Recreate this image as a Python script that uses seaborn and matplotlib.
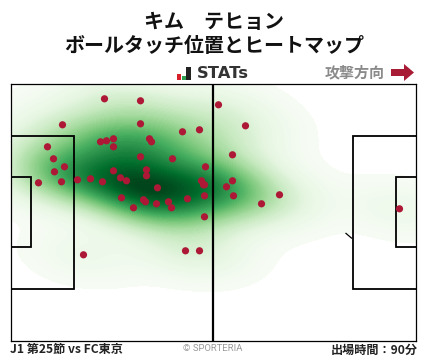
import matplotlib
matplotlib.use("Agg")
import matplotlib.pyplot as plt
from matplotlib.patches import Rectangle, FancyArrow
import seaborn as sns
import pandas as pd

sns.set_theme(style="white")
plt.rcParams['font.family'] = ['Noto Sans CJK JP', 'DejaVu Sans']

# Touch positions, pitch units (1 unit = 1 px on the 405 x 255 pitch); y runs down from the top touchline
touch_x = [94,130,52,130,172,189,103,96,90,139,141,103,37,43,54,130,162,
           195,44,103,136,136,51,28,67,80,92,110,116,191,193,194,147,111,
           133,135,146,158,177,194,123,161,194,73,175,189,
           208,235,222,222,216,223,269,251,389]
touch_y = [14.3,16.3,40.3,39.3,47.3,45.3,54.3,56.3,57.3,54.3,57.3,62.3,62.3,74.3,82.3,72.3,74.3,
           82.3,87.3,86.3,85.3,91.3,97.3,98.3,95.3,94.3,97.3,93.3,96.3,96.3,100.3,100.3,103.3,113.3,
           115.3,117.3,119.3,117.3,114.3,111.3,123.3,123.3,132.3,170.3,166.3,166.3,
           20.3,41.3,70.3,96.3,102.3,111.3,110.3,119.3,124.3]

title_lines = ["キム　テヒョン", "ボールタッチ位置とヒートマップ"]
direction_label = "攻撃方向"
logo_label = "STATs"
footer_left = "J1 第25節 vs FC東京"
footer_mid = "© SPORTERIA"
footer_right = "出場時間：90分"

W, H = 428, 359
fig = plt.figure(figsize=(W/100, H/100), dpi=100)
ax = fig.add_axes([10.5/W, 1-340.5/H, 405.5/W, 256.5/H])
df = pd.DataFrame({"x": touch_x, "y": touch_y})

sns.kdeplot(data=df, x="x", y="y", fill=True, levels=90, thresh=0.012, cmap="Greens",
            bw_adjust=1.08, cut=6, gridsize=200, ax=ax, zorder=1)
sns.scatterplot(data=df, x="x", y="y", color="#ad1836", s=27, edgecolor="none", ax=ax, zorder=5, clip_on=False)

ax.set_xlim(0, 405.5)
ax.set_ylim(256, -0.5)
ax.set_xticks([]); ax.set_yticks([])
ax.set_xlabel(""); ax.set_ylabel("")
for s in ax.spines.values():
    s.set_visible(True); s.set_color("black"); s.set_linewidth(0.9); s.set_zorder(6)

lw = 1.3
def line(xs, ys, w=lw):
    ax.plot(xs, ys, color="black", lw=w, solid_capstyle="butt", solid_joinstyle="miter", zorder=4)
line([202.5, 202.5], [0, 256], 1.6)
line([0, 63, 63, 0], [51, 51, 204.5, 204.5])
line([0, 20.5, 20.5, 0], [92.5, 92.5, 162.5, 162.5])
line([405.5, 342.5, 342.5, 405.5], [51, 51, 204.5, 204.5])
line([405.5, 385, 385, 405.5], [92.5, 92.5, 162.5, 162.5])
line([335, 341.5], [148.5, 154], 0.9)

fig.text(214/W, 1-21/H, title_lines[0], ha="center", va="center", fontsize=14.4, fontweight="bold", color="#111111")
fig.text(214/W, 1-46/H, title_lines[1], ha="center", va="center", fontsize=14.4, fontweight="bold", color="#111111")

# logo
for x0, y0, col, wd in [(177, 74, "#d81f2a", 4), (182, 76, "#2e9e4f", 3.5), (186, 67, "#222222", 4.5)]:
    fig.add_artist(Rectangle((x0/W, 1-80/H), wd/W, (80-y0)/H, transform=fig.transFigure, color=col, lw=0))
fig.text(196.5/W, 1-74/H, logo_label, ha="left", va="center", fontsize=11.8, fontweight="bold", color="#333333",
         family="DejaVu Sans")

fig.text(355/W, 1-72.5/H, direction_label, ha="center", va="center", fontsize=10.8, fontweight="bold", color="#8a8a8a")
fig.add_artist(FancyArrow(391/W, 1-72.5/H, 23/W, 0, width=7/H, head_width=17/H, head_length=10/W,
                          length_includes_head=True, transform=fig.transFigure, color="#a81b35", lw=0))

fig.text(10/W, 1-350/H, footer_left, ha="left", va="center", fontsize=8.7, fontweight="bold", color="#222222")
fig.text(213/W, 1-348.5/H, footer_mid, ha="center", va="center", fontsize=6.8, color="#999999", family="Roboto")
fig.text(418/W, 1-350/H, footer_right, ha="right", va="center", fontsize=8.7, fontweight="bold", color="#222222")

fig.savefig("out.png", dpi=100)
